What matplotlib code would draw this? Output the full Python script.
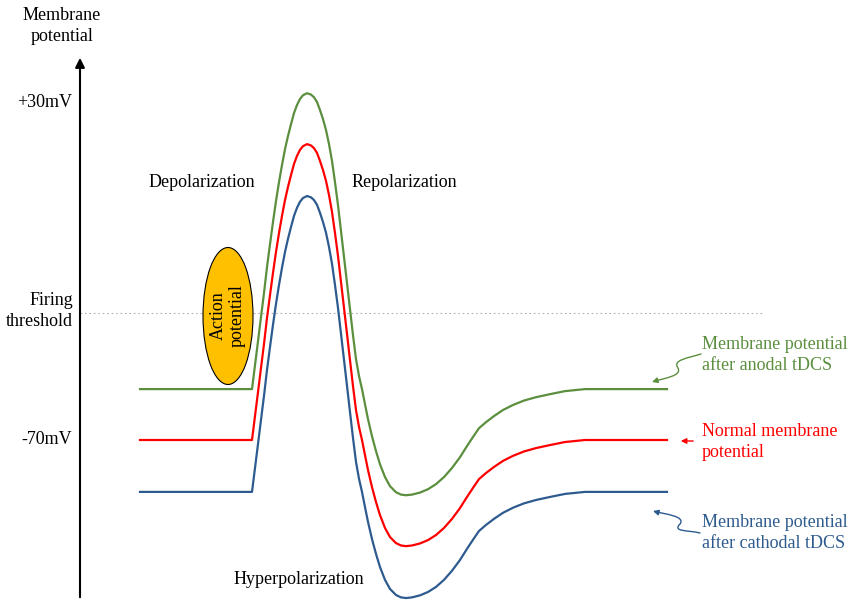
import matplotlib.pyplot as plt
from matplotlib.patches import Ellipse, FancyArrowPatch
from matplotlib.path import Path

plt.rcParams['font.family'] = ['Liberation Serif', 'DejaVu Serif']

# Time (arbitrary units) and membrane potential (mV)
t = [140, 252, 255, 258, 261, 264, 267, 270, 273, 276,
     279, 282, 285, 288, 291, 294, 297, 300, 303, 307,
     311, 314, 317, 320, 323, 326, 329, 332, 335, 338,
     341, 344, 347, 350, 353, 356, 359, 362, 365, 368,
     372, 376, 380, 385, 390, 396, 401, 406, 412, 420,
     428, 436, 444, 452, 460, 467, 473, 479, 486, 494,
     503, 513, 524, 536, 550, 565, 585, 667]
normal_mv = [-70.0, -70.0, -62.9, -55.8, -48.6, -41.5, -33.8, -27.0, -20.4, -14.2,
             -8.6, -3.5, 1.2, 5.1, 8.6, 11.9, 14.3, 16.1, 17.2, 17.8,
             17.4, 16.6, 15.2, 12.8, 10.1, 6.9, 2.7, -2.3, -8.6, -15.4,
             -23.1, -30.8, -38.5, -46.3, -54.0, -61.1, -66.1, -70.0, -74.5, -78.9,
             -84.0, -88.4, -92.3, -96.1, -98.8, -100.6, -101.3, -101.5, -101.3, -100.7,
             -99.7, -98.2, -96.1, -93.4, -90.2, -86.9, -84.2, -81.6, -79.8, -78.0,
             -76.2, -74.7, -73.4, -72.4, -71.5, -70.6, -70.0, -70.0]
anodal_mv = [-54.9, -54.9, -47.8, -40.7, -33.5, -26.4, -18.7, -11.9, -5.3, 0.9,
             6.5, 11.6, 16.3, 20.2, 23.7, 27.0, 29.4, 31.2, 32.3, 32.9,
             32.5, 31.7, 30.3, 27.9, 25.2, 22.0, 17.8, 12.8, 6.5, -0.3,
             -8.0, -15.7, -23.4, -31.2, -38.9, -46.0, -51.0, -54.9, -59.4, -63.8,
             -68.9, -73.3, -77.2, -81.0, -83.7, -85.5, -86.2, -86.4, -86.2, -85.6,
             -84.6, -83.1, -81.0, -78.3, -75.1, -71.8, -69.1, -66.5, -64.7, -62.9,
             -61.1, -59.6, -58.3, -57.3, -56.4, -55.5, -54.9, -54.9]
cathodal_mv = [-85.4, -85.4, -78.3, -71.2, -64.0, -56.9, -49.2, -42.4, -35.8, -29.6,
               -24.0, -18.9, -14.2, -10.3, -6.8, -3.5, -1.1, 0.7, 1.8, 2.4,
               2.0, 1.2, -0.2, -2.6, -5.3, -8.5, -12.7, -17.7, -24.0, -30.8,
               -38.5, -46.2, -53.9, -61.7, -69.4, -76.5, -81.5, -85.4, -89.9, -94.3,
               -99.4, -103.8, -107.7, -111.5, -114.2, -116.0, -116.7, -116.9, -116.7, -116.1,
               -115.1, -113.6, -111.5, -108.8, -105.6, -102.3, -99.6, -97.0, -95.2, -93.4,
               -91.6, -90.1, -88.8, -87.8, -86.9, -86.0, -85.4, -85.4]

threshold_mv = -32.3
tick_mv = [30, -70]
tick_labels = ['+30mV', '-70mV']

green = '#5b8f3e'
red = '#ff0000'
blue = '#2e5b8f'
FS = 13


def py(p):
    # drawing row (pixels from top) -> mV, used for placing labels
    return -70 + (440 - p) / 3.37


fig = plt.figure(figsize=(8.51, 6.0), dpi=100)
ax = fig.add_axes([0, 0, 1, 1])
ax.set_xlim(0, 851)
ax.set_ylim(py(600), py(0))
ax.axis('off')

# vertical axis with arrow
ax.annotate('', xy=(80, py(55)), xytext=(80, py(600)),
            arrowprops=dict(arrowstyle='-|>', color='black', lw=1.5,
                            mutation_scale=14))
ax.text(62, py(26), 'Membrane\npotential', ha='center', va='center',
        fontsize=FS, linespacing=1.25)
for v, lab in zip(tick_mv, tick_labels):
    ax.text(72, v, lab, ha='right', va='center', fontsize=FS)

# firing threshold
ax.plot([80, 762], [threshold_mv, threshold_mv], color='#b0b0b0', lw=0.8,
        ls=(0, (1.5, 2.5)))
ax.text(73, py(311), 'Firing\nthreshold', ha='right', va='center',
        fontsize=FS, linespacing=1.25)

# traces
ax.plot(t, anodal_mv, color=green, lw=1.6, solid_joinstyle='round')
ax.plot(t, normal_mv, color=red, lw=1.6, solid_joinstyle='round')
ax.plot(t, cathodal_mv, color=blue, lw=1.6, solid_joinstyle='round')

# action potential bubble
ax.add_patch(Ellipse((228, py(316)), 50, 137 / 3.37, facecolor='#ffc000',
                     edgecolor='black', lw=0.8, zorder=3))
ax.text(228, py(316), 'Action\npotential', rotation=90, ha='center',
        va='center', fontsize=FS, linespacing=1.15, zorder=4)

ax.text(202, py(183), 'Depolarization', ha='center', va='center', fontsize=FS)
ax.text(352, py(183), 'Repolarization', ha='left', va='center', fontsize=FS)
ax.text(299, py(579), 'Hyperpolarization', ha='center', va='center',
        fontsize=FS)

# right-hand labels
ax.text(702, py(355), 'Membrane potential\nafter anodal tDCS', color=green,
        ha='left', va='center', fontsize=FS, linespacing=1.25)
ax.text(702, py(442), 'Normal membrane\npotential', color=red,
        ha='left', va='center', fontsize=FS, linespacing=1.25)
ax.text(702, py(533), 'Membrane potential\nafter cathodal tDCS', color=blue,
        ha='left', va='center', fontsize=FS, linespacing=1.25)


# pointer arrows
def wiggle_arrow(pts, color):
    verts = [(x, py(y)) for x, y in pts]
    codes = [Path.MOVETO] + [Path.CURVE4] * (len(verts) - 1)
    ax.add_patch(FancyArrowPatch(path=Path(verts, codes), arrowstyle='-|>',
                                 color=color, lw=1.0, mutation_scale=8))


wiggle_arrow([(701, 354), (688, 358), (672, 360), (678, 368),
              (682, 376), (665, 378), (652, 382)], green)
ax.annotate('', xy=(678, py(441)), xytext=(696, py(441)),
            arrowprops=dict(arrowstyle='-|>', color=red, lw=1.0,
                            mutation_scale=8))
wiggle_arrow([(700, 533), (688, 530), (672, 532), (680, 524),
              (686, 516), (664, 514), (653, 511)], blue)

fig.savefig('out.png', dpi=100)
